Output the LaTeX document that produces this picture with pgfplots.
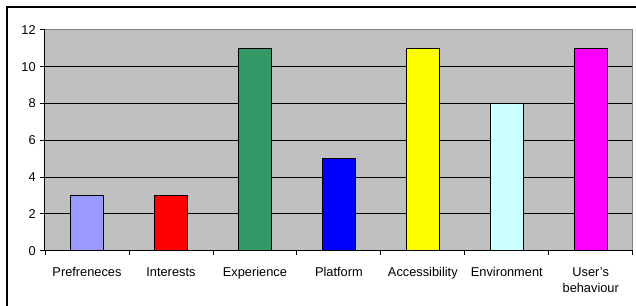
\documentclass[border=0pt]{standalone}
\usepackage{fontspec}
\setmainfont{Liberation Sans}
\usepackage{pgfplots}
\pgfplotsset{compat=1.18}
\definecolor{c1}{HTML}{9999FF}
\definecolor{c2}{HTML}{FF0000}
\definecolor{c3}{HTML}{339966}
\definecolor{c4}{HTML}{0000FF}
\definecolor{c5}{HTML}{FFFF00}
\definecolor{c6}{HTML}{CCFFFF}
\definecolor{c7}{HTML}{FF00FF}
\definecolor{plotbg}{HTML}{C0C0C0}
\definecolor{plotborder}{HTML}{808080}
\begin{document}
\begin{tikzpicture}[x=0.75pt,y=0.75pt]
\begin{axis}[
  scale only axis, width=440.8pt, height=165.6pt,
  xmin=-0.5, xmax=6.5, ymin=0, ymax=12,
  ytick={0,2,...,12},
  xtick={0,1,2,3,4,5,6},
  xticklabels={Prefreneces,Interests,Experience,Platform,Accessibility,Environment,{User's\\behaviour}},
  major x tick style={draw=none},
  minor xtick={-0.5,0.5,...,6.5},
  minor tick length=3pt,
  tick align=outside, major tick length=3.5pt,
  tick style={black, line width=0.6pt},
  xtick pos=bottom, ytick pos=left,
  ymajorgrids, major grid style={black, line width=0.75pt},
  axis background/.style={fill=plotbg},
  axis line style={draw=none},
  tick label style={font=\fontsize{9.6}{12.5}\selectfont},
  xticklabel style={align=center, yshift=-5.5pt},
  /pgf/number format/assume math mode=true,
  ybar, bar width=24.75pt,
  every axis plot/.append style={bar shift=0pt, draw=black, line width=0.75pt},
  clip=false,
]
\draw[plotborder, line width=0.75pt] (rel axis cs:0,1) -- (rel axis cs:1,1) -- (rel axis cs:1,0);
\addplot[fill=c1] coordinates {(0,3)};
\addplot[fill=c2] coordinates {(1,3)};
\addplot[fill=c3] coordinates {(2,11)};
\addplot[fill=c4] coordinates {(3,5)};
\addplot[fill=c5] coordinates {(4,11)};
\addplot[fill=c6] coordinates {(5,8)};
\addplot[fill=c7] coordinates {(6,11)};
\draw[black, line width=0.75pt] (rel axis cs:0,1) -- (rel axis cs:0,0) -- (rel axis cs:1,0);
\coordinate (O) at (rel axis cs:0,0);
\end{axis}
\pgfresetboundingbox
\begin{scope}[shift={(O)}]
\path[use as bounding box] (-45,-55.3) rectangle (591,250.7);
\begin{scope}
\clip (-45,-55.3) rectangle (591,250.7);
\draw[line width=1pt] (-38,-70) rectangle (620,243.7);
\end{scope}
\end{scope}
\end{tikzpicture}
\end{document}
